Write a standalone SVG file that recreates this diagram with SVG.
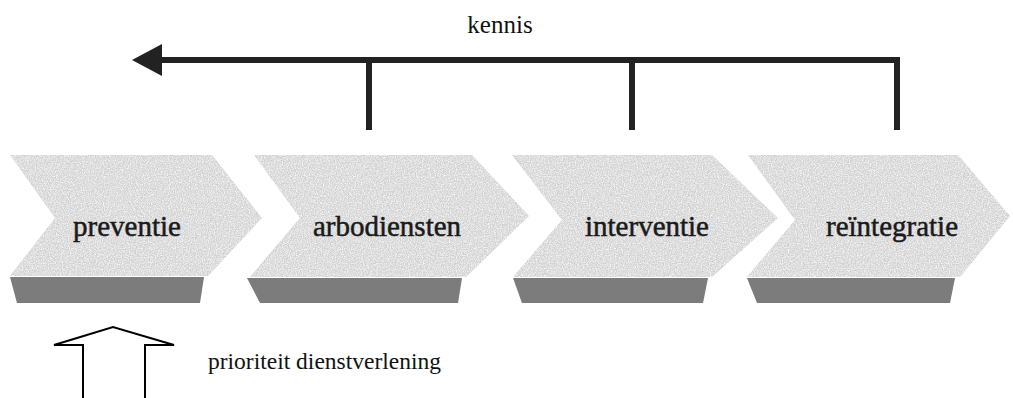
<svg xmlns="http://www.w3.org/2000/svg" width="1013" height="398" viewBox="0 0 1013 398">
  <style>
    .chev { fill: #d3d3d3; filter: url(#grainLight); }
    .band { fill: #727272; filter: url(#grainDark); }
    .lbl { font-family: "Liberation Serif", "Times New Roman", serif; font-size: 29px; fill: #1a1a1a; stroke: #1a1a1a; stroke-width: 0.5; text-anchor: middle; }
    .note { font-family: "Liberation Serif", "Times New Roman", serif; fill: #111; }
    .conn { fill: none; stroke: #222; stroke-width: 6; stroke-linejoin: miter; stroke-linecap: butt; }
    .block { fill: #fff; stroke: #000; stroke-width: 2; stroke-linejoin: miter; }
  </style>
  <defs>
    <filter id="grainLight" x="0" y="0" width="1" height="1">
      <feTurbulence type="fractalNoise" baseFrequency="0.85" numOctaves="2" seed="4" result="n"/>
      <feColorMatrix in="n" type="matrix" values="0 0 0 0 1  0 0 0 0 1  0 0 0 0 1  0 0 0 -1.8 1.15" result="w"/>
      <feComposite in="w" in2="SourceGraphic" operator="in" result="ws"/>
      <feTurbulence type="fractalNoise" baseFrequency="0.9" numOctaves="2" seed="11" result="n2"/>
      <feColorMatrix in="n2" type="matrix" values="0 0 0 0 0.6  0 0 0 0 0.6  0 0 0 0 0.6  0 0 0 -2 1.0" result="d"/>
      <feComposite in="d" in2="SourceGraphic" operator="in" result="ds"/>
      <feMerge><feMergeNode in="SourceGraphic"/><feMergeNode in="ds"/><feMergeNode in="ws"/></feMerge>
    </filter>
    <filter id="grainDark" x="0" y="0" width="1" height="1">
      <feTurbulence type="fractalNoise" baseFrequency="1.0" numOctaves="2" seed="7" result="n"/>
      <feColorMatrix in="n" type="matrix" values="0 0 0 0 0.85  0 0 0 0 0.85  0 0 0 0 0.85  0 0 0 -3 1.55" result="w"/>
      <feComposite in="w" in2="SourceGraphic" operator="in" result="ws"/>
      <feMerge><feMergeNode in="SourceGraphic"/><feMergeNode in="ws"/></feMerge>
    </filter>
    <marker id="arrowhead" markerUnits="userSpaceOnUse" markerWidth="32" markerHeight="34" viewBox="0 0 32 34" refX="2" refY="17" orient="auto">
      <path d="M0,1 L30,17 L0,33 Z" fill="#222"/>
    </marker>
  </defs>

  <rect width="1013" height="398" fill="#fff"/>

  <g id="node-preventie">
    <polygon class="chev" points="10,155 212,155 262,218 208,276 10,276 55,218"/>
    <polygon class="band" points="10,277 204,277 200,303 17,303"/>
    <text class="lbl" x="127" y="236">preventie</text>
  </g>

  <g id="node-arbodiensten">
    <polygon class="chev" points="254,155 472,155 529,216 466,277 250,277 300,218"/>
    <polygon class="band" points="247,278 462,278 458,303 260,303"/>
    <text class="lbl" x="387" y="236">arbodiensten</text>
  </g>

  <g id="node-interventie">
    <polygon class="chev" points="512,155 712,155 778,218 712,277 513,277 562,220"/>
    <polygon class="band" points="513,278 708,278 703,303 522,303"/>
    <text class="lbl" x="647" y="236">interventie</text>
  </g>

  <g id="node-reintegratie">
    <polygon class="chev" points="748,155 958,155 1010,216 960,277 747,277 795,220"/>
    <polygon class="band" points="747,278 955,278 950,303 757,303"/>
    <text class="lbl" x="892" y="236">reïntegratie</text>
  </g>

  <g id="connectors">
    <path class="conn" d="M897,130 V60 H160" marker-end="url(#arrowhead)"/>
    <path class="conn" d="M369,60 V130"/>
    <path class="conn" d="M632,60 V130"/>
    <text class="note" x="500" y="33" font-size="25" text-anchor="middle">kennis</text>
  </g>

  <g id="priority">
    <path class="block" d="M83,399 V345 H54 L113,327 L174,345 H145 V399"/>
    <text class="note" x="208" y="369" font-size="23.5">prioriteit dienstverlening</text>
  </g>
</svg>
